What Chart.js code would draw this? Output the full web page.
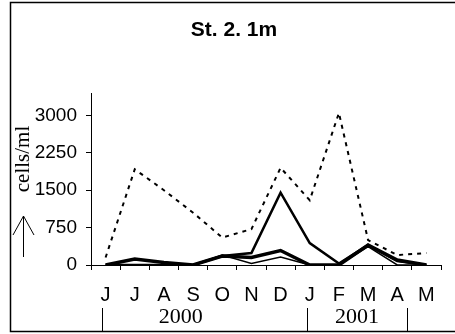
<!DOCTYPE html>
<html>
<head>
<meta charset="utf-8">
<script src="https://cdn.jsdelivr.net/npm/chart.js@4.4.1/dist/chart.umd.min.js"></script>
<style>
  html, body { margin: 0; padding: 0; background: #fff; overflow: hidden; }
  #wrap { width: 455px; height: 334px; }
  canvas { display: block; }
</style>
</head>
<body>
<div id="wrap"><canvas id="myChart" width="455" height="334"></canvas></div>
<script>
const months = ['J', 'J', 'A', 'S', 'O', 'N', 'D', 'J', 'F', 'M', 'A', 'M'];
const yTicks = [0, 750, 1500, 2250, 3000];
const years = ['2000', '2001'];
const titleText = 'St. 2. 1m';

// cells/ml per month
const dottedSeries = [150, 1920, 1500, 1050, 550, 720, 1950, 1300, 3050, 500, 200, 240];
const peakSeries = [0, 0, 0, 0, 180, 240, 1450, 440, 30, 400, 80, 0];
const thickSeries = [0, 120, 50, 0, 180, 150, 290, 0, 0, 400, 100, 0];
const thinSeries = [0, 0, 0, 0, 200, 30, 160, 0, 0, 370, 0, 0];

// frame, title, y label, arrow, year row
const extras = {
    id: 'extras',
    afterDraw(chart) {
        const ctx = chart.ctx;
        const x = chart.scales.x;
        ctx.save();
        ctx.strokeStyle = '#000';
        ctx.fillStyle = '#000';

        // outer frame, right side runs off the picture
        ctx.lineWidth = 1.5;
        ctx.beginPath();
        ctx.moveTo(470, 2.5);
        ctx.lineTo(10.5, 2.5);
        ctx.lineTo(10.5, 331.5);
        ctx.lineTo(470, 331.5);
        ctx.stroke();

        // title
        ctx.font = 'bold 21px "Liberation Sans"';
        ctx.textAlign = 'center';
        ctx.textBaseline = 'middle';
        ctx.fillText(titleText, 234, 30);

        // rotated unit label
        ctx.save();
        ctx.translate(23, 159);
        ctx.rotate(-Math.PI / 2);
        ctx.font = '21px "Liberation Serif"';
        ctx.fillText('cells/ml', 0, 0);
        ctx.restore();

        // up arrow
        ctx.lineWidth = 1;
        ctx.beginPath();
        ctx.moveTo(23.5, 257);
        ctx.lineTo(23.5, 216);
        ctx.moveTo(13, 235);
        ctx.lineTo(23.5, 216);
        ctx.lineTo(34, 235);
        ctx.stroke();

        // year separators and labels
        const seps = [-0.12, 6.9, 10.33];
        seps.forEach(s => {
            const px = Math.round(x.getPixelForValue(s)) + 0.5;
            ctx.beginPath();
            ctx.moveTo(px, 308);
            ctx.lineTo(px, 331);
            ctx.stroke();
        });
        ctx.font = '22px "Liberation Serif"';
        ctx.fillText(years[0], x.getPixelForValue(2.58), 317);
        ctx.fillText(years[1], x.getPixelForValue(8.62), 317);
        ctx.restore();
    }
};

new Chart(document.getElementById('myChart'), {
    type: 'line',
    data: {
        labels: months,
        datasets: [
            {
                label: 'dotted',
                data: dottedSeries,
                borderColor: '#000',
                borderWidth: 2,
                borderDash: [4, 5]
            },
            {
                label: 'peak',
                data: peakSeries,
                borderColor: '#000',
                borderWidth: 2.5
            },
            {
                label: 'thick',
                data: thickSeries,
                borderColor: '#000',
                borderWidth: 3.5
            },
            {
                label: 'thin',
                data: thinSeries,
                borderColor: '#000',
                borderWidth: 1.5
            }
        ]
    },
    options: {
        responsive: false,
        animation: false,
        events: [],
        elements: {
            point: { radius: 0 },
            line: { tension: 0, borderCapStyle: 'butt', borderJoinStyle: 'miter' }
        },
        layout: { padding: { left: 0, right: 14, top: 93, bottom: 0 } },
        plugins: {
            legend: { display: false },
            tooltip: { enabled: false },
            title: { display: false }
        },
        scales: {
            x: {
                offset: true,
                grid: {
                    offset: true,
                    drawOnChartArea: false,
                    drawTicks: true,
                    tickLength: 5,
                    color: '#000'
                },
                border: { color: '#000', width: 1 },
                ticks: {
                    color: '#000',
                    padding: 13,
                    maxRotation: 0,
                    autoSkip: false,
                    font: { family: '"Liberation Sans"', size: 20 }
                },
                afterFit(scale) { scale.height = 69; }
            },
            y: {
                min: 0,
                max: 3450,
                grid: {
                    drawOnChartArea: false,
                    drawTicks: true,
                    tickLength: 5,
                    color: '#000'
                },
                border: { color: '#000', width: 1 },
                ticks: {
                    color: '#000',
                    padding: 9,
                    font: { family: '"Liberation Sans"', size: 19 },
                    callback: v => String(v)
                },
                afterBuildTicks(scale) {
                    scale.ticks = yTicks.map(v => ({ value: v }));
                },
                afterFit(scale) { scale.width = 91; }
            }
        }
    },
    plugins: [extras]
});
</script>
</body>
</html>
